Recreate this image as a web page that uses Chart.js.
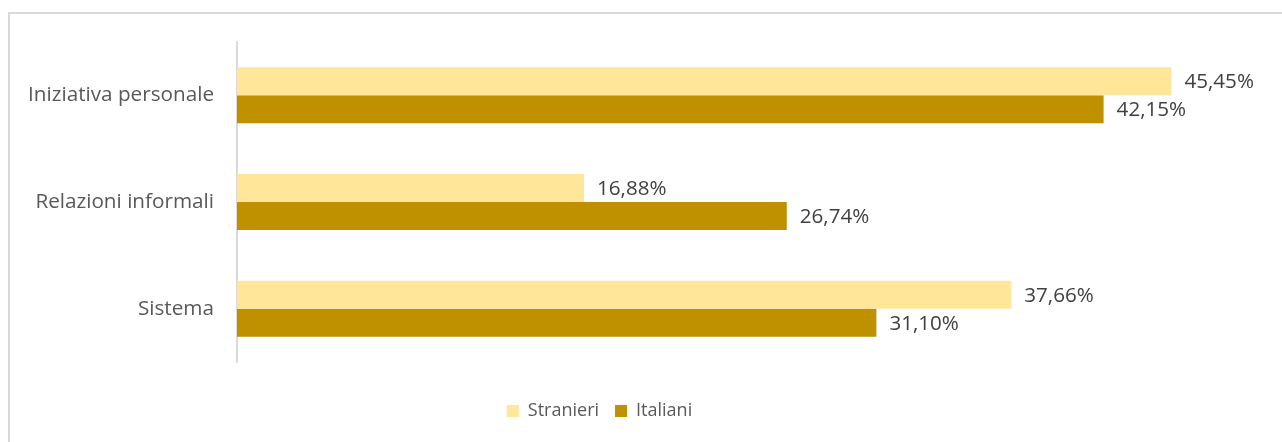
<!DOCTYPE html>
<html>
<head>
<meta charset="utf-8">
<script src="https://cdn.jsdelivr.net/npm/chart.js@4/dist/chart.umd.min.js"></script>
<style>
  html, body { margin: 0; padding: 0; background: #fff; overflow: hidden; }
  #frame {
    position: absolute; left: 8px; top: 12px; width: 1400px; height: 600px;
    border-top: 2px solid #d9d9d9; border-left: 2px solid #d9d9d9;
  }
  #wrap { position: absolute; left: 0; top: 0; width: 1282px; height: 442px; }
</style>
</head>
<body>
<div id="frame"></div>
<div id="wrap"><canvas id="chart"></canvas></div>
<script>
const categories = ['Iniziativa personale', 'Relazioni informali', 'Sistema'];
const stranieri = [45.45, 16.88, 37.66];
const italiani = [42.15, 26.74, 31.10];

const FONT = "'Open Sans', sans-serif";

function pct(v) {
    return v.toFixed(2).replace('.', ',') + '%';
}

// writes the value next to the end of each bar
const valueLabels = {
    id: 'valueLabels',
    afterDatasetsDraw(chart) {
        const ctx = chart.ctx;
        ctx.save();
        ctx.font = '20.6px ' + FONT;
        ctx.fillStyle = '#404040';
        ctx.textAlign = 'left';
        ctx.textBaseline = 'middle';
        chart.data.datasets.forEach((ds, i) => {
            chart.getDatasetMeta(i).data.forEach((bar, j) => {
                ctx.fillText(pct(ds.data[j]), bar.x + 13, bar.y + 1);
            });
        });
        ctx.restore();
    }
};

// legend sits a bit left of the canvas centre
const legendShift = {
    id: 'legendShift',
    afterLayout(chart) {
        chart.legend.left -= 33;
        chart.legend.right -= 33;
    }
};

new Chart(document.getElementById('chart'), {
    type: 'bar',
    data: {
        labels: categories,
        datasets: [
            { label: 'Stranieri', data: stranieri, backgroundColor: '#FFE699' },
            { label: 'Italiani', data: italiani, backgroundColor: '#BF9000' }
        ]
    },
    options: {
        indexAxis: 'y',
        responsive: true,
        maintainAspectRatio: false,
        animation: false,
        layout: { padding: { top: 42, right: 17, left: 0, bottom: 12 } },
        datasets: { bar: { categoryPercentage: 0.525, barPercentage: 1.0 } },
        scales: {
            x: {
                min: 0, max: 50,
                afterFit(scale) { scale.height = 24; },
                grid: { display: false },
                border: { display: false },
                ticks: { display: false }
            },
            y: {
                afterFit(scale) { scale.width = 237; },
                grid: { display: false, drawTicks: false },
                border: { display: true, color: '#d9d9d9', width: 2 },
                ticks: { color: '#595959', font: { family: FONT, size: 20.7 }, padding: 23 }
            }
        },
        plugins: {
            legend: {
                position: 'bottom',
                labels: {
                    boxWidth: 12, boxHeight: 12, padding: 16,
                    color: '#595959',
                    font: { family: FONT, size: 18 }
                }
            },
            tooltip: { enabled: false }
        }
    },
    plugins: [valueLabels, legendShift]
});
</script>
</body>
</html>
